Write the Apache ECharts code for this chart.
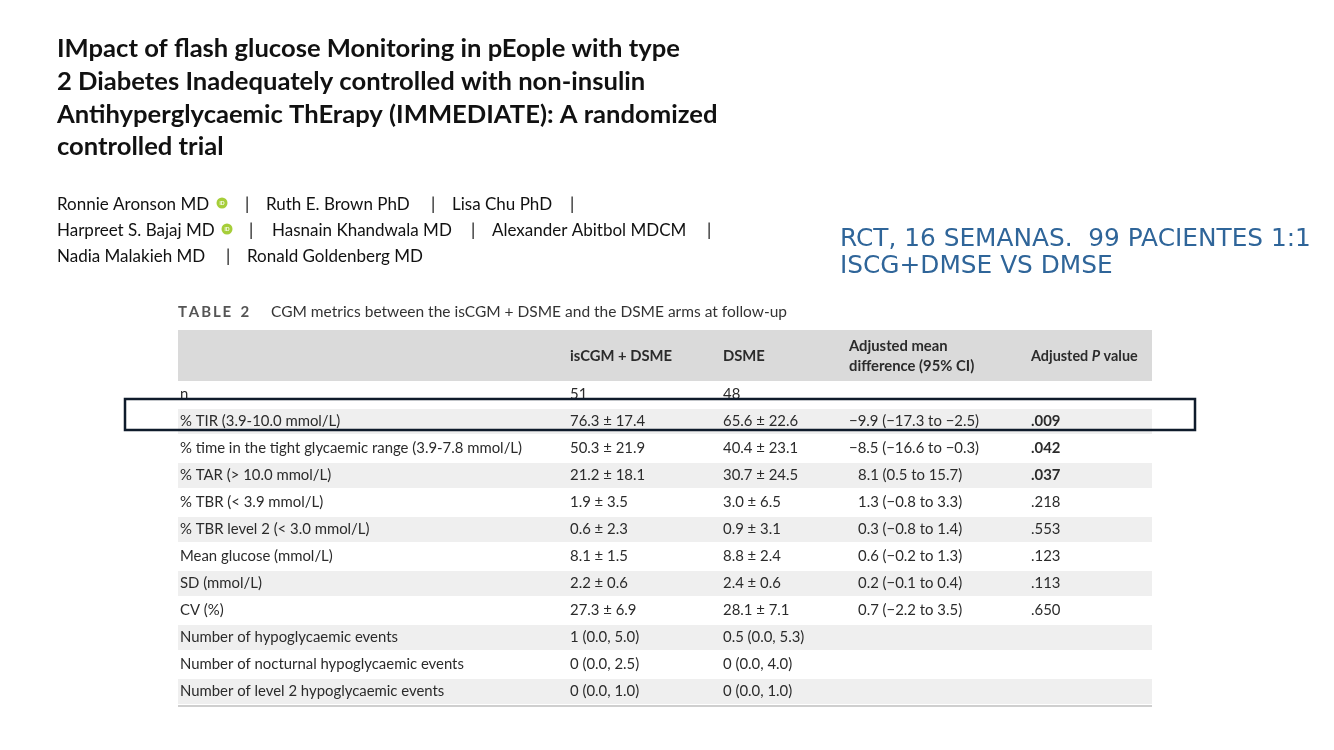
<!DOCTYPE html>
<html>
<head>
<meta charset="utf-8">
<script src="https://cdn.jsdelivr.net/npm/echarts@6/dist/echarts.min.js"></script>
<style>
  html, body { margin: 0; padding: 0; background: #fff; }
  #main { width: 1334px; height: 750px; }
</style>
</head>
<body>
<div id="main"></div>
<script>
// table data (Table 2 - CGM metrics)
var rowLabels = [
    "n",
    "% TIR (3.9-10.0 mmol/L)",
    "% time in the tight glycaemic range (3.9-7.8 mmol/L)",
    "% TAR (> 10.0 mmol/L)",
    "% TBR (< 3.9 mmol/L)",
    "% TBR level 2 (< 3.0 mmol/L)",
    "Mean glucose (mmol/L)",
    "SD (mmol/L)",
    "CV (%)",
    "Number of hypoglycaemic events",
    "Number of nocturnal hypoglycaemic events",
    "Number of level 2 hypoglycaemic events"
];
var iscgmValues = ["51", "76.3 ± 17.4", "50.3 ± 21.9", "21.2 ± 18.1", "1.9 ± 3.5", "0.6 ± 2.3",
    "8.1 ± 1.5", "2.2 ± 0.6", "27.3 ± 6.9", "1 (0.0, 5.0)", "0 (0.0, 2.5)", "0 (0.0, 1.0)"];
var dsmeValues = ["48", "65.6 ± 22.6", "40.4 ± 23.1", "30.7 ± 24.5", "3.0 ± 6.5", "0.9 ± 3.1",
    "8.8 ± 2.4", "2.4 ± 0.6", "28.1 ± 7.1", "0.5 (0.0, 5.3)", "0 (0.0, 4.0)", "0 (0.0, 1.0)"];
var meanDiff = ["", "\u22129.9 (\u221217.3 to \u22122.5)", "\u22128.5 (\u221216.6 to \u22120.3)", "8.1 (0.5 to 15.7)",
    "1.3 (\u22120.8 to 3.3)", "0.3 (\u22120.8 to 1.4)", "0.6 (\u22120.2 to 1.3)", "0.2 (\u22120.1 to 0.4)",
    "0.7 (\u22122.2 to 3.5)", "", "", ""];
var pValues = ["", ".009", ".042", ".037", ".218", ".553", ".123", ".113", ".650", "", "", ""];
var highlightRow = 1;

var titleLines = [
    "IMpact of flash glucose Monitoring in pEople with type",
    "2 Diabetes Inadequately controlled with non-insulin",
    "Antihyperglycaemic ThErapy (IMMEDIATE): A randomized",
    "controlled trial"
];
var noteLines = ["RCT, 16 SEMANAS.  99 PACIENTES 1:1", "ISCG+DMSE VS DMSE"];

// column offsets inside the table (px on the x axis)
var colX = [2, 392, 545, 671, 853];
var txtColor = "#2b2b2b";
var cellFont = "14.9px Lato";

var chart = echarts.init(document.getElementById("main"));

var graphics = [];
// title
for (var i = 0; i < titleLines.length; i++) {
    graphics.push({
        type: "text", x: 57, y: 49 + i * 32.7,
        style: { text: titleLines[i], font: "bold 25.6px Lato", fill: "#111", align: "left", verticalAlign: "middle" }
    });
}
// authors
var authors = [
    { t: "Ronnie Aronson MD", x: 57, y: 205, orcid: 222 },
    { t: "|", x: 245, y: 205 },
    { t: "Ruth E. Brown PhD", x: 266, y: 205 },
    { t: "|", x: 431, y: 205 },
    { t: "Lisa Chu PhD", x: 452, y: 205 },
    { t: "|", x: 570, y: 205 },
    { t: "Harpreet S. Bajaj MD", x: 57, y: 231, orcid: 227 },
    { t: "|", x: 249, y: 231 },
    { t: "Hasnain Khandwala MD", x: 272, y: 231 },
    { t: "|", x: 471, y: 231 },
    { t: "Alexander Abitbol MDCM", x: 492, y: 231 },
    { t: "|", x: 707, y: 231 },
    { t: "Nadia Malakieh MD", x: 57, y: 257 },
    { t: "|", x: 226, y: 257 },
    { t: "Ronald Goldenberg MD", x: 247, y: 257 }
];
authors.forEach(function (a) {
    graphics.push({
        type: "text", x: a.x, y: a.y,
        style: { text: a.t, font: "17px Lato", fill: "#111", align: "left", verticalAlign: "middle" }
    });
    if (a.orcid) {
        graphics.push({ type: "circle", shape: { cx: a.orcid, cy: a.y - 2, r: 5.5 }, style: { fill: "#a6ce39" } });
        graphics.push({
            type: "text", x: a.orcid, y: a.y - 2,
            style: { text: "iD", font: "bold 5px Lato", fill: "#fff", align: "center", verticalAlign: "middle" }
        });
    }
});
// blue note
noteLines.forEach(function (t, i) {
    graphics.push({
        type: "text", x: 840, y: 240 + i * 27,
        style: { text: t, font: "24.8px 'DejaVu Sans'", fill: "#2f6599", align: "left", verticalAlign: "middle" }
    });
});
// table caption
graphics.push({
    type: "text", x: 178, y: 312,
    style: {
        text: "T\u2009A\u2009B\u2009L\u2009E\u2002\u20092",
        font: "bold 15px Lato", fill: "#555", align: "left", verticalAlign: "middle"
    }
});
graphics.push({
    type: "text", x: 271, y: 312,
    style: {
        text: "CGM metrics between the isCGM + DSME and the DSME arms at follow-up",
        font: "15.5px Lato", fill: "#333", align: "left", verticalAlign: "middle"
    }
});
// header band
graphics.push({ type: "rect", shape: { x: 178, y: 330, width: 974, height: 51 }, style: { fill: "#dadada" }, z: 0 });
var hdrFont = "bold 14.8px Lato";
[
    { t: "isCGM + DSME", x: 570, y: 356 },
    { t: "DSME", x: 723, y: 356 },
    { t: "Adjusted mean", x: 849, y: 346 },
    { t: "difference (95% CI)", x: 849, y: 366 }
].forEach(function (h) {
    graphics.push({
        type: "text", x: h.x, y: h.y, z: 1,
        style: { text: h.t, font: hdrFont, fill: txtColor, align: "left", verticalAlign: "middle" }
    });
});
graphics.push({
    type: "text", x: 1031, y: 356, z: 1,
    style: {
        text: "{a|Adjusted }{i|P}{a| value}", align: "left", verticalAlign: "middle",
        rich: {
            a: { font: "bold 14.4px Lato", fill: txtColor },
            i: { font: "italic bold 14.4px Lato", fill: txtColor }
        }
    }
});
// highlight frame around the TIR row
graphics.push({
    type: "rect", z: 10,
    shape: { x: 125, y: 399, width: 1070, height: 31 },
    style: { fill: null, stroke: "#0f1b2b", lineWidth: 2.5 }
});

var option = {
    backgroundColor: "#fff",
    animation: false,
    grid: { left: 178, top: 381, width: 974, height: 324 },
    xAxis: { type: "value", min: 0, max: 974, show: false },
    yAxis: { type: "category", data: rowLabels, inverse: true, show: false },
    graphic: graphics,
    series: [{
        type: "custom",
        encode: { x: 0, y: 1 },
        data: rowLabels.map(function (_, i) { return [0, i]; }),
        renderItem: function (params, api) {
            var idx = api.value(1);
            var c = api.coord([0, idx]);
            var bandH = api.size([0, 1])[1];
            var right = api.coord([974, idx])[0];
            var children = [];
            if (idx % 2 === 1) {
                children.push({
                    type: "rect",
                    shape: { x: c[0], y: c[1] - bandH / 2 + 1, width: right - c[0], height: bandH - 2 },
                    style: { fill: "#efefef" }
                });
            }
            var cells = [rowLabels[idx], iscgmValues[idx], dsmeValues[idx], meanDiff[idx], pValues[idx]];
            cells.forEach(function (t, k) {
                if (!t) return;
                var x = api.coord([colX[k], idx])[0];
                if (k === 3 && t.charAt(0) !== "\u2212") x += 9;
                var bold = k === 4 && parseFloat(t) < 0.05;
                children.push({
                    type: "text",
                    x: x, y: c[1],
                    style: {
                        text: t, font: (bold ? "bold " : "") + cellFont,
                        fill: txtColor, align: "left", verticalAlign: "middle"
                    }
                });
            });
            if (idx === rowLabels.length - 1) {
                children.push({
                    type: "rect",
                    shape: { x: c[0], y: c[1] + bandH / 2, width: right - c[0], height: 2 },
                    style: { fill: "#cfcfcf" }
                });
            }
            return { type: "group", children: children };
        }
    }]
};
chart.setOption(option);
</script>
</body>
</html>
